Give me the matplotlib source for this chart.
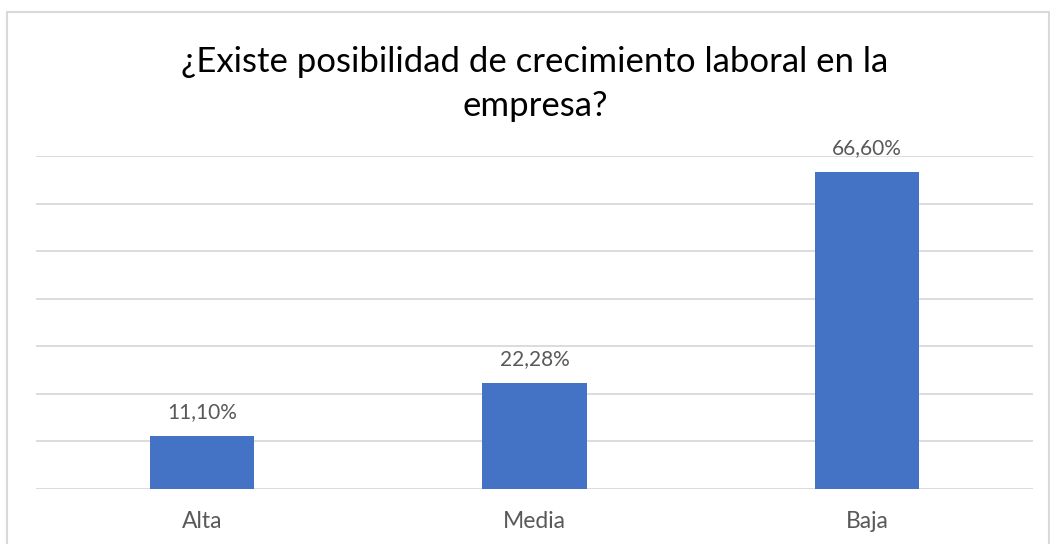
import matplotlib
matplotlib.use("Agg")
import matplotlib.pyplot as plt
from matplotlib.patches import Rectangle

categories = ["Alta", "Media", "Baja"]
values = [11.10, 22.28, 66.60]
labels = ["11,10%", "22,28%", "66,60%"]
title_lines = ["¿Existe posibilidad de crecimiento laboral en la", "empresa?"]

plt.rcParams['font.family'] = ['Lato', 'DejaVu Sans']

W, H = 1050, 544
PX = 72 / 100  # points per pixel at dpi 100
fig = plt.figure(figsize=(W/100, H/100), dpi=100)

# outer chart border
fig.patches.append(Rectangle((7/W, -0.05), (W-7-1)/W, 1 + 0.05 - 12/H,
                             transform=fig.transFigure, fill=False,
                             edgecolor='#d9d9d9', linewidth=1.5))

x0, x1 = 36, 1033
ytop, ybot = 156, 489
ax = fig.add_axes([x0/W, 1 - ybot/H, (x1-x0)/W, (ybot-ytop)/H])

xs = list(range(len(categories)))
ax.bar(xs, values, width=0.313, color='#4472C4', zorder=3)
ax.set_xlim(-0.5, len(categories) - 0.5)
ax.set_ylim(0, 70)
ax.set_yticks(range(0, 71, 10))
ax.yaxis.grid(True, color='#d9d9d9', linewidth=1.3, zorder=0)
ax.tick_params(axis='y', left=False, labelleft=False)
ax.set_xticks(xs)
ax.set_xticklabels([])
ax.tick_params(axis='x', length=0)
for s in ax.spines.values():
    s.set_visible(False)

for x, cat in zip(xs, categories):
    ax.annotate(cat, (x, 0), xycoords=('data', 'axes fraction'),
                xytext=(0, -39 * PX), textcoords='offset points',
                ha='center', va='baseline', fontsize=16.5, color='#595959')

for x, v, lab in zip(xs, values, labels):
    ax.annotate(lab, (x, v), xytext=(0, 18 * PX), textcoords='offset points',
                ha='center', va='baseline', fontsize=15, color='#595959')

fig.text(535/W, 1 - 72/H, title_lines[0], ha='center', va='baseline',
         fontsize=25, color='#000000')
fig.text(535/W, 1 - 116/H, title_lines[1], ha='center', va='baseline',
         fontsize=25, color='#000000')

fig.savefig("out.png", dpi=100)
